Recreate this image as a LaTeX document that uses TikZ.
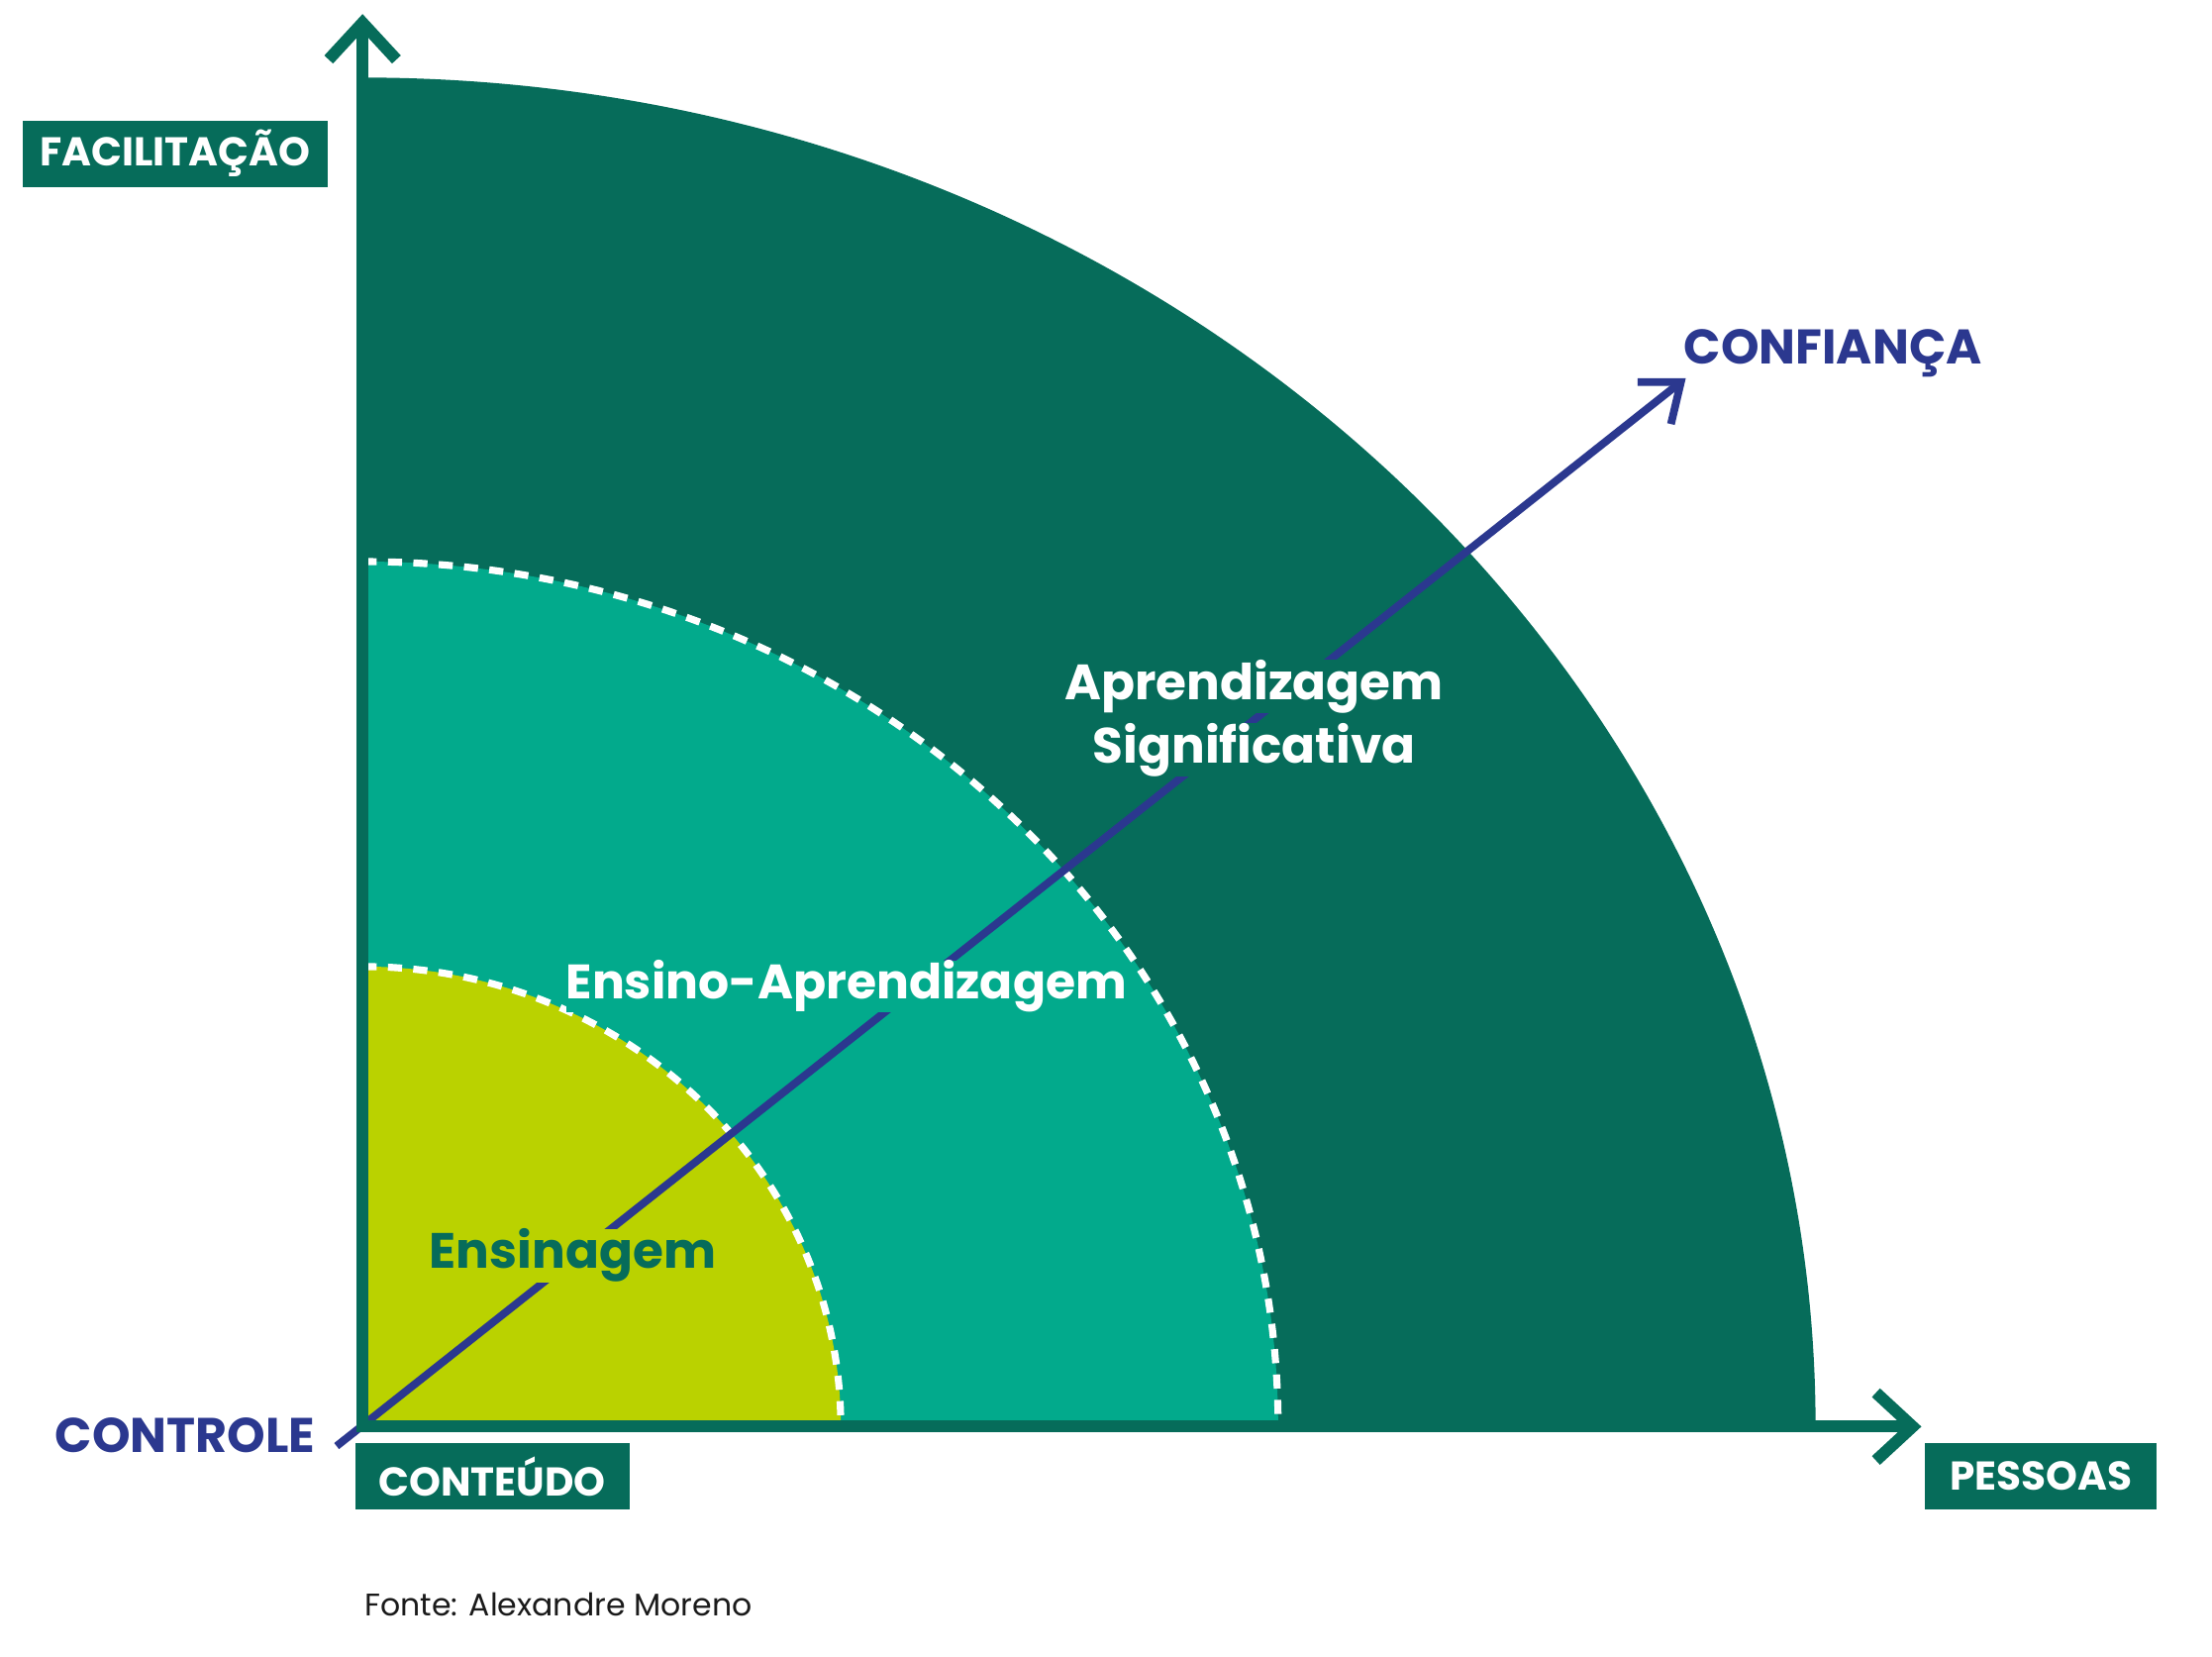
\documentclass[tikz,border=0pt]{standalone}
\usepackage{fontspec}
\setmainfont{Poppins}
\usepackage{tikz}
\usetikzlibrary{arrows.meta}
\definecolor{verdeescuro}{HTML}{066C5A}
\definecolor{verdeagua}{HTML}{02AA8C}
\definecolor{verdelima}{HTML}{BAD200}
\definecolor{azul}{HTML}{2B388F}
\definecolor{cinza}{HTML}{1A1A1A}

\begin{document}
\begin{tikzpicture}[x=0.01cm,y=0.01cm,line join=miter,
  eixo/.style={draw=verdeescuro,line width=0.84mm,{Straight Barb[length=2.6mm,width=4.8mm]}-{Straight Barb[length=2.6mm,width=4.8mm]}},
  seta/.style={draw=azul,line width=0.55mm,-{Straight Barb[length=2.4mm,width=3.8mm]}},
  tracejado/.style={draw=white,line width=0.5mm,dash pattern=on 1mm off 0.8mm}]
  \tikzstyle{rotulo}=[fill=verdeescuro,text=white,inner sep=0pt,minimum height=0.47cm,font=\bfseries\fontsize{8.1}{10}\selectfont]
  \tikzstyle{regiao}=[inner sep=0pt,font=\bfseries\fontsize{10}{12}\selectfont]
  \tikzstyle{polo}=[inner sep=0pt,text=azul,font=\bfseries\fontsize{9.8}{12}\selectfont]

  \useasboundingbox (0,0) rectangle (1568,1174);

  \coordinate (O)    at (257,163);
  \coordinate (ytip) at (257,1164);
  \coordinate (xtip) at (1362,163);
  \coordinate (ctrl) at (238.6,149.2);
  \coordinate (conf) at (1195,906);

  \fill[verdeescuro] (O) -- ++(0,956) arc[start angle=90,end angle=0,x radius=1030,y radius=956] -- cycle;
  \fill[verdeagua]   (O) -- ++(0,613) arc[start angle=90,end angle=0,x radius=649,y radius=613] -- cycle;
  \fill[verdelima]   (O) -- ++(0,326) arc[start angle=90,end angle=0,x radius=339,y radius=326] -- cycle;
  \draw[tracejado] (O) ++(0,613) arc[start angle=90,end angle=0,x radius=649,y radius=613];
  \draw[tracejado] (O) ++(0,326) arc[start angle=90,end angle=0,x radius=339,y radius=326];

  \draw[seta] (ctrl) -- (conf);

  \node[regiao,fill=verdeescuro,text=white,anchor=base] (aprend) at (889,678) {Aprendizagem};
  \node[regiao,fill=verdeescuro,text=white,anchor=base] (signif) at (889,633.5) {Significativa};
  \node[regiao,fill=verdeagua,text=white,anchor=base,font=\bfseries\fontsize{9.75}{12}\selectfont] (ensapr) at (600,466) {Ensino-Aprendizagem};
  \node[regiao,fill=verdelima,text=verdeescuro,anchor=base] (ensin) at (406,275) {Ensinagem};

  \draw[eixo] (ytip) -- (O) -- (xtip);

  \node[rotulo,minimum width=2.16cm] (facil) at (124,1065) {FACILITAÇÃO};
  \node[rotulo,minimum width=1.94cm] (conte) at (349,127.5) {CONTEÚDO};
  \node[rotulo,minimum width=1.64cm] (pess) at (1446.6,127.8) {PESSOAS};
  \node[polo,anchor=base west] (confi) at (1193,916) {CONFIANÇA};
  \node[polo,anchor=base east] (contr) at (224,145) {CONTROLE};
  \node[anchor=base west,inner sep=0pt,text=cinza,font=\fontsize{6.3}{8}\selectfont] (fonte) at (258,29) {Fonte: Alexandre Moreno};
\end{tikzpicture}
\end{document}
